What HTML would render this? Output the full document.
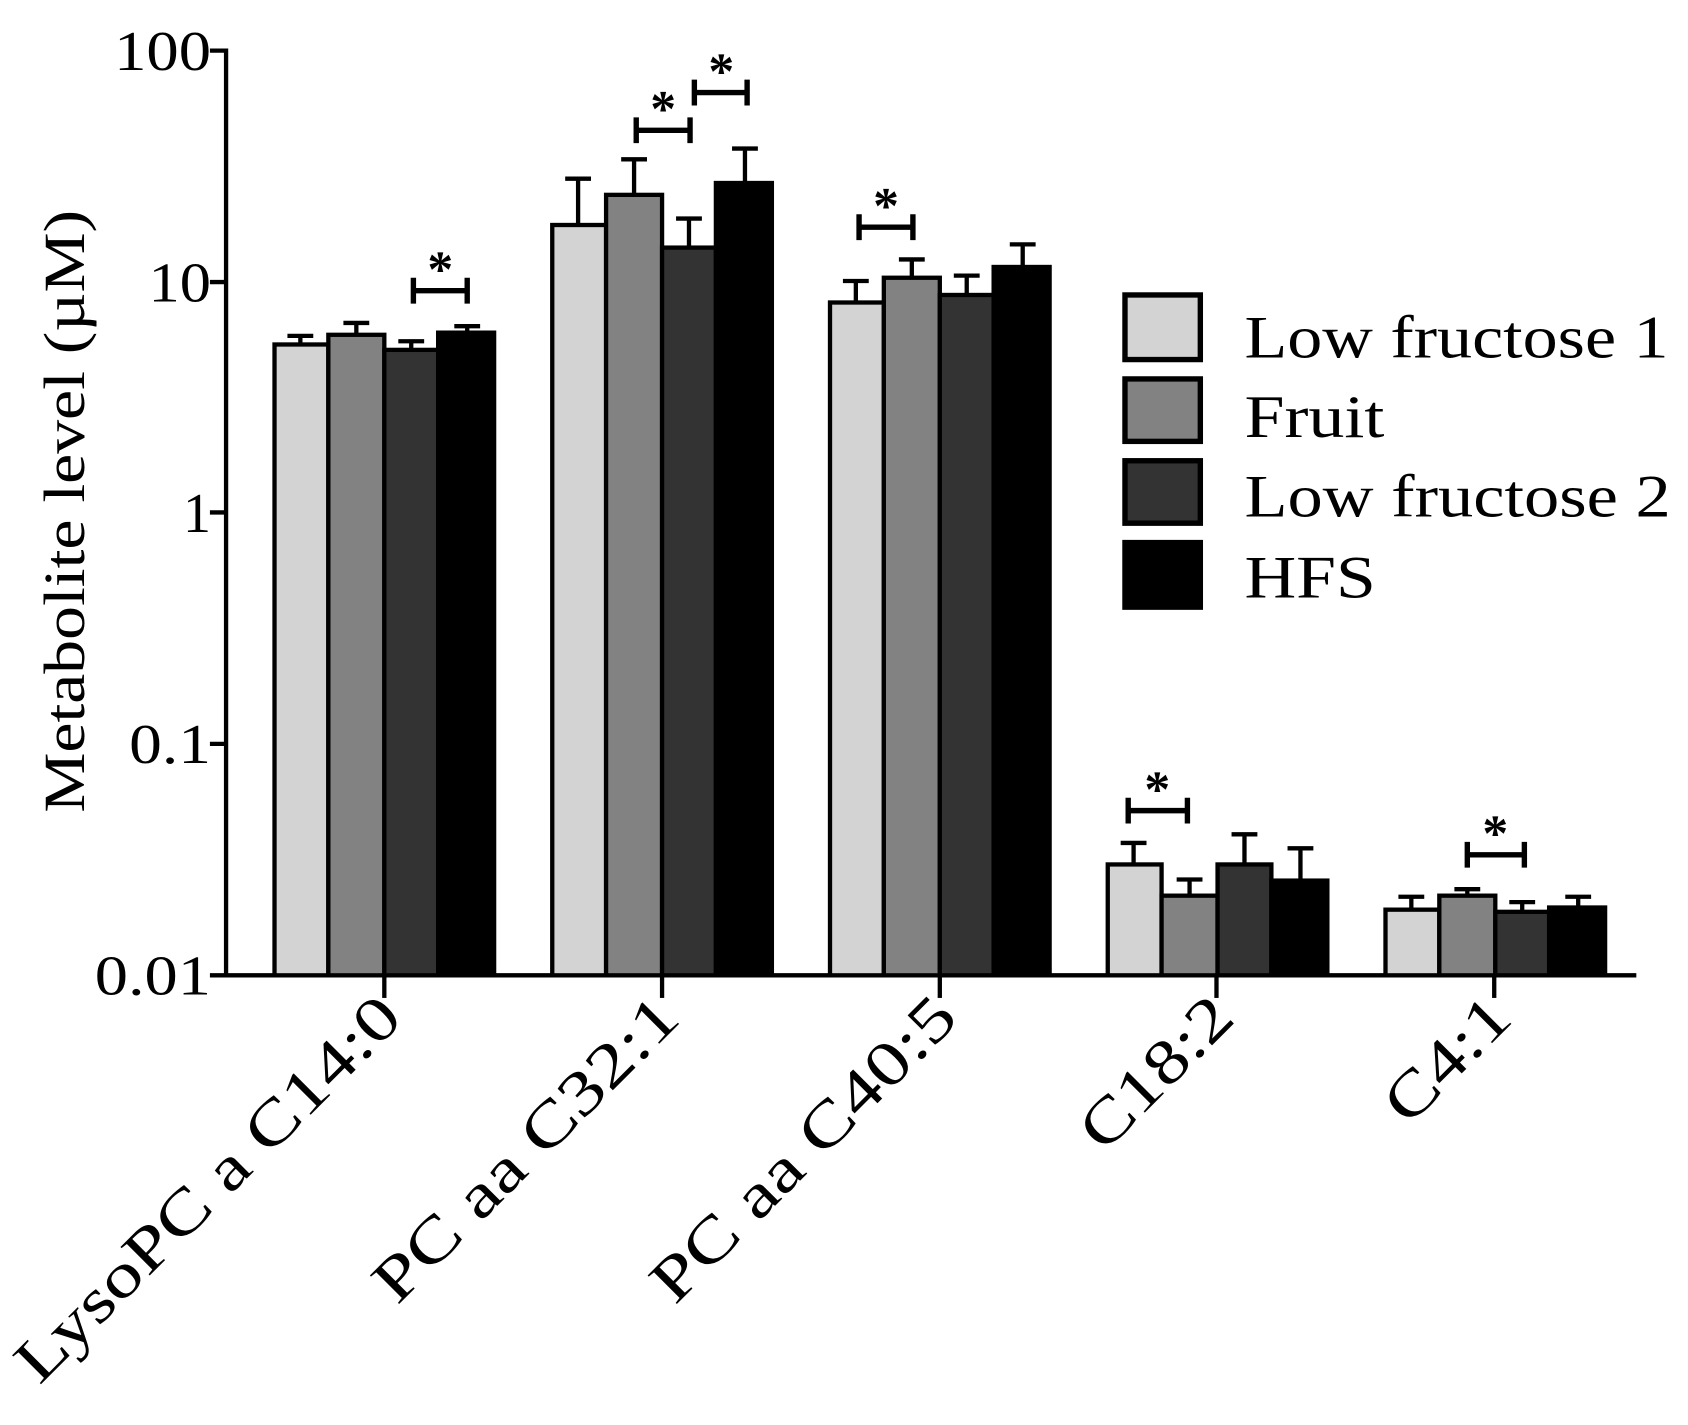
<!DOCTYPE html>
<html><head><meta charset="utf-8"><style>html,body{margin:0;padding:0;background:#fff}svg{display:block}</style></head>
<body>
<svg width="1688" height="1425" viewBox="0 0 1568 1323.7" preserveAspectRatio="none" xmlns="http://www.w3.org/2000/svg" font-family="'Liberation Serif', serif">
<g stroke="#000" stroke-width="4" fill="none">
<line x1="210" y1="45" x2="210" y2="908"/>
<line x1="195" y1="47" x2="210" y2="47"/>
<line x1="195" y1="262" x2="210" y2="262"/>
<line x1="195" y1="476" x2="210" y2="476"/>
<line x1="195" y1="691" x2="210" y2="691"/>
<line x1="195" y1="906" x2="1520" y2="906"/>
<line x1="357" y1="906" x2="357" y2="927"/>
<line x1="615" y1="906" x2="615" y2="927"/>
<line x1="873" y1="906" x2="873" y2="927"/>
<line x1="1130" y1="906" x2="1130" y2="927"/>
<line x1="1388" y1="906" x2="1388" y2="927"/>
</g>
<g font-size="52" text-anchor="end" fill="#000">
<text x="196" y="65" textLength="90" lengthAdjust="spacingAndGlyphs">100</text>
<text x="196" y="280" textLength="58" lengthAdjust="spacingAndGlyphs">10</text>
<text x="196" y="494">1</text>
<text x="196" y="709" textLength="76" lengthAdjust="spacingAndGlyphs">0.1</text>
<text x="196" y="924" textLength="108" lengthAdjust="spacingAndGlyphs">0.01</text>
</g>
<text transform="translate(78,475) rotate(-90)" font-size="54" text-anchor="middle" textLength="560" lengthAdjust="spacingAndGlyphs">Metabolite level (µM)</text>
<g stroke="#000" stroke-width="4">
<line x1="279" y1="320" x2="279" y2="312"/><line x1="267" y1="312" x2="291" y2="312"/>
<line x1="331" y1="311" x2="331" y2="300"/><line x1="319" y1="300" x2="343" y2="300"/>
<line x1="382" y1="325" x2="382" y2="317"/><line x1="370" y1="317" x2="394" y2="317"/>
<line x1="434" y1="309" x2="434" y2="303"/><line x1="422" y1="303" x2="446" y2="303"/>
<rect x="255" y="320" width="50" height="586" fill="#d3d3d3"/>
<rect x="305" y="311" width="52" height="595" fill="#828282"/>
<rect x="357" y="325" width="50" height="581" fill="#333"/>
<rect x="407" y="309" width="52" height="597" fill="#000"/>
<line x1="537" y1="209" x2="537" y2="166"/><line x1="525" y1="166" x2="549" y2="166"/>
<line x1="589" y1="181" x2="589" y2="148"/><line x1="577" y1="148" x2="601" y2="148"/>
<line x1="640" y1="230" x2="640" y2="203"/><line x1="628" y1="203" x2="652" y2="203"/>
<line x1="692" y1="170" x2="692" y2="138"/><line x1="680" y1="138" x2="704" y2="138"/>
<rect x="513" y="209" width="50" height="697" fill="#d3d3d3"/>
<rect x="563" y="181" width="52" height="725" fill="#828282"/>
<rect x="615" y="230" width="50" height="676" fill="#333"/>
<rect x="665" y="170" width="52" height="736" fill="#000"/>
<line x1="795" y1="281" x2="795" y2="261"/><line x1="783" y1="261" x2="807" y2="261"/>
<line x1="847" y1="258" x2="847" y2="241"/><line x1="835" y1="241" x2="859" y2="241"/>
<line x1="898" y1="274" x2="898" y2="256"/><line x1="886" y1="256" x2="910" y2="256"/>
<line x1="950" y1="248" x2="950" y2="227"/><line x1="938" y1="227" x2="962" y2="227"/>
<rect x="771" y="281" width="50" height="625" fill="#d3d3d3"/>
<rect x="821" y="258" width="52" height="648" fill="#828282"/>
<rect x="873" y="274" width="50" height="632" fill="#333"/>
<rect x="923" y="248" width="52" height="658" fill="#000"/>
<line x1="1053" y1="803" x2="1053" y2="783"/><line x1="1041" y1="783" x2="1065" y2="783"/>
<line x1="1105" y1="832" x2="1105" y2="817"/><line x1="1093" y1="817" x2="1117" y2="817"/>
<line x1="1156" y1="803" x2="1156" y2="775"/><line x1="1144" y1="775" x2="1168" y2="775"/>
<line x1="1208" y1="818" x2="1208" y2="788"/><line x1="1196" y1="788" x2="1220" y2="788"/>
<rect x="1029" y="803" width="50" height="103" fill="#d3d3d3"/>
<rect x="1079" y="832" width="52" height="74" fill="#828282"/>
<rect x="1131" y="803" width="50" height="103" fill="#333"/>
<rect x="1181" y="818" width="52" height="88" fill="#000"/>
<line x1="1311" y1="845" x2="1311" y2="833"/><line x1="1299" y1="833" x2="1323" y2="833"/>
<line x1="1363" y1="832" x2="1363" y2="826"/><line x1="1351" y1="826" x2="1375" y2="826"/>
<line x1="1414" y1="847" x2="1414" y2="838"/><line x1="1402" y1="838" x2="1426" y2="838"/>
<line x1="1466" y1="843" x2="1466" y2="833"/><line x1="1454" y1="833" x2="1478" y2="833"/>
<rect x="1287" y="845" width="50" height="61" fill="#d3d3d3"/>
<rect x="1337" y="832" width="52" height="74" fill="#828282"/>
<rect x="1389" y="847" width="50" height="59" fill="#333"/>
<rect x="1439" y="843" width="52" height="63" fill="#000"/>
<g fill="none" stroke-width="5">
<path d="M384 258V282M384 270H434M434 258V282"/>
<path d="M591 109V133M591 121H641M641 109V133"/>
<path d="M645 74V98M645 86H694M694 74V98"/>
<path d="M798 199V223M798 211H848M848 199V223"/>
<path d="M1048 741V765M1048 753H1103M1103 741V765"/>
<path d="M1363 782V806M1363 794H1416M1416 782V806"/>
</g>
<rect x="1045" y="274" width="70" height="60" fill="#d3d3d3" stroke-width="5"/>
<rect x="1045" y="352" width="70" height="58" fill="#828282" stroke-width="5"/>
<rect x="1045" y="428" width="70" height="58" fill="#333" stroke-width="5"/>
<rect x="1045" y="504" width="70" height="60" fill="#000" stroke-width="5"/>
</g>
<g font-size="48" font-weight="bold" text-anchor="middle">
<text x="409" y="266">*</text>
<text x="616" y="117">*</text>
<text x="670" y="82">*</text>
<text x="823" y="207">*</text>
<text x="1075" y="749">*</text>
<text x="1389" y="790">*</text>
</g>
<g font-size="56">
<text x="1156" y="332" textLength="394" lengthAdjust="spacingAndGlyphs">Low fructose 1</text>
<text x="1156" y="406" textLength="130" lengthAdjust="spacingAndGlyphs">Fruit</text>
<text x="1156" y="480" textLength="396" lengthAdjust="spacingAndGlyphs">Low fructose 2</text>
<text x="1156" y="555" textLength="122" lengthAdjust="spacingAndGlyphs">HFS</text>
</g>
<g font-size="58" text-anchor="end">
<text transform="translate(376,948) rotate(-45)" textLength="480" lengthAdjust="spacingAndGlyphs">LysoPC a C14:0</text>
<text transform="translate(634,948) rotate(-45)" textLength="375" lengthAdjust="spacingAndGlyphs">PC aa C32:1</text>
<text transform="translate(892,948) rotate(-45)" textLength="375" lengthAdjust="spacingAndGlyphs">PC aa C40:5</text>
<text transform="translate(1149,948) rotate(-45)" textLength="175" lengthAdjust="spacingAndGlyphs">C18:2</text>
<text transform="translate(1407,948) rotate(-45)" textLength="140" lengthAdjust="spacingAndGlyphs">C4:1</text>
</g>
</svg>
</body></html>
